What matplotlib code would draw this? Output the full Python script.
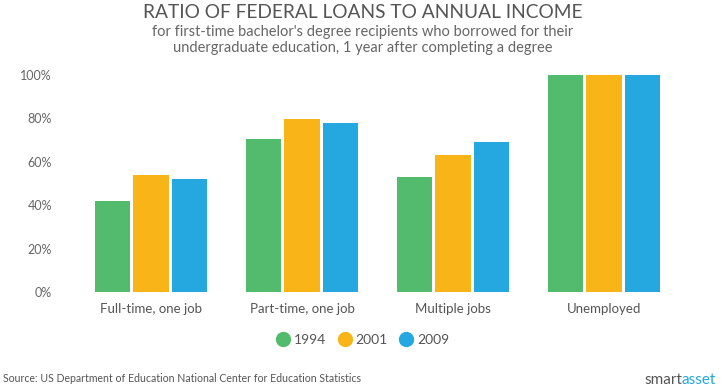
import matplotlib
matplotlib.use("Agg")
import matplotlib.pyplot as plt
from matplotlib.lines import Line2D
import numpy as np

categories = ["Full-time, one job", "Part-time, one job", "Multiple jobs", "Unemployed"]
years = ["1994", "2001", "2009"]
v1994 = [42, 70.5, 53, 100]
v2001 = [54, 79.5, 63, 100]
v2009 = [52, 78, 69, 100]
colors = ["#52bb6e", "#f9b517", "#25a7df"]
yticks = [0, 20, 40, 60, 80, 100]
ytick_labels = ["0%", "20%", "40%", "60%", "80%", "100%"]

plt.rcParams['font.family'] = ['Lato', 'DejaVu Sans']
W, H = 725, 387
fig = plt.figure(figsize=(W/100, H/100), dpi=100)

ax_left, ax_right = 75.5, 679.5
y0, y100 = 292, 75
ppu = (y0 - y100) / 100.0
ytop = 105
ax = fig.add_axes([ax_left/W, (H - y0)/H, (ax_right-ax_left)/W, ppu*ytop/H])

x = np.arange(len(categories))
bw = 0.232
step = 0.258
for i, (vals, c) in enumerate(zip([v1994, v2001, v2009], colors)):
    ax.bar(x + (i-1)*step, vals, width=bw, color=c, edgecolor='none', zorder=2)

ax.set_xlim(-0.5, 3.5)
ax.set_ylim(0, ytop)
ax.set_yticks(yticks)
ax.set_yticklabels(ytick_labels)
ax.set_xticks(x)
ax.set_xticklabels(categories)
ax.tick_params(axis='y', length=0, pad=17, labelsize=9, labelcolor='#666666')
ax.tick_params(axis='x', length=0, pad=8, labelsize=9.5, labelcolor='#555555')
for s in ax.spines.values():
    s.set_visible(False)

fig.text(0.5, 1 - 13/H, "RATIO OF FEDERAL LOANS TO ANNUAL INCOME", ha='center', va='center',
         fontsize=13.8, color='#555555')
fig.text(0.5, 1 - 32/H, "for first-time bachelor's degree recipients who borrowed for their",
         ha='center', va='center', fontsize=10.5, color='#666666')
fig.text(0.5, 1 - 48/H, "undergraduate education, 1 year after completing a degree",
         ha='center', va='center', fontsize=10.5, color='#666666')

handles = [Line2D([], [], marker='o', linestyle='none', markersize=11, markerfacecolor=c,
                  markeredgecolor='none', label=y) for y, c in zip(years, colors)]
leg = fig.legend(handles=handles, loc='center', bbox_to_anchor=(362/W, 1 - 340/H), ncol=3,
                 frameon=False, fontsize=10, handletextpad=0.2, columnspacing=0.7,
                 handlelength=1.2)
for t in leg.get_texts():
    t.set_color('#555555')

fig.text(3/W, 1 - 379/H, "Source: US Department of Education National Center for Education Statistics",
         ha='left', va='center', fontsize=7.6, color='#555555')
fig.text(682/W, 1 - 380/H, "smart", ha='right', va='center', fontsize=11, color='#555555')
fig.text(682/W, 1 - 380/H, "asset", ha='left', va='center', fontsize=11, color='#25a7df')

fig.savefig("out.png", dpi=100)
